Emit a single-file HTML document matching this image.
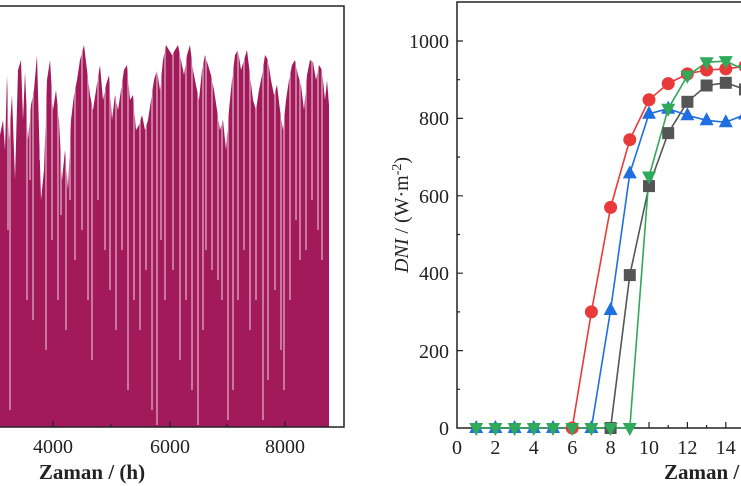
<!DOCTYPE html>
<html><head><meta charset="utf-8"><style>
html,body{margin:0;padding:0;background:#fff;width:741px;height:486px;overflow:hidden}
svg text{font-family:"Liberation Serif",serif;fill:#222}
</style></head><body>
<svg width="741" height="486" viewBox="0 0 741 486" xmlns="http://www.w3.org/2000/svg">
<defs>
<rect id="sq" x="-6" y="-6" width="12" height="12" fill="#555"/>
<circle id="ci" r="6.5" fill="#e83a3a"/>
<path id="up" d="M0 -8L7 5L-7 5Z" fill="#1f6fe0"/>
<path id="dn" d="M0 8L7 -5L-7 -5Z" fill="#2faa5a"/>
</defs>
<!-- bars -->
<polygon fill="#a31a5b" points="0,427 0,135 3,120 5,150 7,75 9,140 12,95 15,180 18,70 21,60 23,120 25,72 28,140 31,105 34,90 37,55 39,130 41,200 44,170 47,80 50,60 53,110 56,90 59,120 62,180 65,150 68,190 71,120 74,95 77,80 80,60 84,45 87,70 90,95 93,110 96,90 100,65 103,100 106,85 109,75 112,120 115,95 118,110 121,90 124,70 127,65 130,100 133,95 136,130 139,125 142,115 145,130 148,120 151,100 154,80 157,70 160,90 163,60 166,45 169,50 172,55 175,50 178,45 181,60 184,75 187,55 190,45 193,70 196,85 199,100 202,70 205,55 208,65 211,75 214,90 217,110 220,130 223,120 226,150 229,110 232,80 235,55 238,50 241,70 244,60 247,50 250,75 253,100 256,110 259,90 262,75 265,55 268,60 271,80 274,95 277,85 280,110 283,130 286,100 289,80 292,65 295,60 298,75 301,85 304,110 307,75 310,60 313,62 316,80 319,65 322,70 325,100 327,80 329,105 329,427"/>
<g stroke="#fff" stroke-width="0.9" opacity="0.9">
<path d="M8 40V230M10 40V410M27 40V300M30 40V180M33 40V320M40 40V160M46 40V350M52 40V240M58 40V300M61 40V215M66 40V330M70 40V200M75 40V260M82 40V230M88 40V300M92 40V360M98 40V200M105 40V250M110 40V290M116 40V330M122 40V250M128 40V390M134 40V300M140 40V330M146 40V270M152 40V410M157 40V425M161 40V240M165 40V300M173 40V270M180 40V360M186 40V300M192 40V390M198 40V425M203 40V330M206 40V250M212 40V270M218 40V280M222 40V300M228 40V420M233 40V390M238 40V300M244 40V250M250 40V330M256 40V300M263 40V420M268 40V380M275 40V290M281 40V350M284 40V390M290 40V300M296 40V220M300 40V260M306 40V250M312 40V200M318 40V230M322 40V260"/>
</g>
<!-- left frame -->
<path d="M-2 6 H344 V427 H-2" fill="none" stroke="#222" stroke-width="1.5"/>
<g stroke="#222" stroke-width="1.2">
<line x1="53" y1="427" x2="53" y2="421"/><line x1="170" y1="427" x2="170" y2="421"/><line x1="285" y1="427" x2="285" y2="421"/>
<line x1="111" y1="427" x2="111" y2="424"/><line x1="227" y1="427" x2="227" y2="424"/>
</g>
<g font-size="20" text-anchor="middle">
<text x="53" y="453">4000</text><text x="170" y="453">6000</text><text x="285" y="453">8000</text>
</g>
<text x="92" y="479" font-size="21" font-weight="bold" text-anchor="middle">Zaman / (h)</text>

<!-- right frame -->
<path d="M745 2 H457 V428 H745" fill="none" stroke="#222" stroke-width="1.5"/>
<g stroke="#222" stroke-width="1.2">
<path d="M457 389.3h3M457 350.6h6M457 311.9h3M457 273.2h6M457 234.5h3M457 195.8h6M457 157.1h3M457 118.4h6M457 79.7h3M457 41h6"/>
<path d="M476.2 428v-3M495.4 428v-6M514.6 428v-3M533.8 428v-6M553 428v-3M572.2 428v-6M591.4 428v-3M610.6 428v-6M629.8 428v-3M649 428v-6M668.2 428v-3M687.4 428v-6M706.6 428v-3M725.8 428v-6"/>
</g>
<g font-size="20" text-anchor="end">
<text x="449" y="435">0</text><text x="449" y="358">200</text><text x="449" y="280">400</text><text x="449" y="203">600</text><text x="449" y="125">800</text><text x="449" y="48">1000</text>
</g>
<g font-size="20" text-anchor="middle">
<text x="457" y="454">0</text><text x="495.4" y="454">2</text><text x="533.8" y="454">4</text><text x="572.2" y="454">6</text><text x="610.6" y="454">8</text><text x="649" y="454">10</text><text x="687.4" y="454">12</text><text x="725.8" y="454">14</text>
</g>
<text transform="translate(408,215) rotate(-90)" font-size="20" text-anchor="middle"><tspan font-style="italic">DNI</tspan> / (W·m<tspan dy="-7" font-size="14">-2</tspan><tspan dy="7">)</tspan></text>
<text x="664" y="479" font-size="21" font-weight="bold">Zaman / (h)</text>

<g fill="none" stroke-width="1.6" stroke-linejoin="round">
<polyline stroke="#555" points="476.2,428 610.6,428 629.8,275.1 649,186.1 668.2,133.1 687.4,101.8 706.6,85.5 725.8,82.8 745,89.4"/>
<polyline stroke="#e83a3a" points="476.2,428 572.2,428 591.4,311.9 610.6,207.4 629.8,139.7 649,99.8 668.2,83.6 687.4,73.9 706.6,70 725.8,68.9 745,66.2"/>
<polyline stroke="#1f6fe0" points="476.2,428 591.4,428 610.6,310 629.8,173.4 649,113.8 668.2,108.7 687.4,115.3 706.6,120.3 725.8,122.3 745,114.5"/>
<polyline stroke="#2faa5a" points="476.2,428 629.8,428 649,176.5 668.2,108.7 687.4,75.8 706.6,62.3 725.8,61.1 745,70"/>
</g>
<use href="#sq" x="610.6" y="428"/><use href="#sq" x="629.8" y="275.1"/><use href="#sq" x="649" y="186.1"/><use href="#sq" x="668.2" y="133.1"/><use href="#sq" x="687.4" y="101.8"/><use href="#sq" x="706.6" y="85.5"/><use href="#sq" x="725.8" y="82.8"/><use href="#sq" x="745" y="89.4"/>
<use href="#ci" x="572.2" y="428"/><use href="#ci" x="591.4" y="311.9"/><use href="#ci" x="610.6" y="207.4"/><use href="#ci" x="629.8" y="139.7"/><use href="#ci" x="649" y="99.8"/><use href="#ci" x="668.2" y="83.6"/><use href="#ci" x="687.4" y="73.9"/><use href="#ci" x="706.6" y="70"/><use href="#ci" x="725.8" y="68.9"/><use href="#ci" x="745" y="66.2"/>
<use href="#up" x="476.2" y="428"/><use href="#up" x="495.4" y="428"/><use href="#up" x="514.6" y="428"/><use href="#up" x="533.8" y="428"/><use href="#up" x="553" y="428"/><use href="#up" x="591.4" y="428"/><use href="#up" x="610.6" y="310"/><use href="#up" x="629.8" y="173.4"/><use href="#up" x="649" y="113.8"/><use href="#up" x="668.2" y="108.7"/><use href="#up" x="687.4" y="115.3"/><use href="#up" x="706.6" y="120.3"/><use href="#up" x="725.8" y="122.3"/><use href="#up" x="745" y="114.5"/>
<use href="#dn" x="476.2" y="428"/><use href="#dn" x="495.4" y="428"/><use href="#dn" x="514.6" y="428"/><use href="#dn" x="533.8" y="428"/><use href="#dn" x="553" y="428"/><use href="#dn" x="572.2" y="428"/><use href="#dn" x="591.4" y="428"/><use href="#dn" x="610.6" y="428"/><use href="#dn" x="629.8" y="428"/><use href="#dn" x="649" y="176.5"/><use href="#dn" x="668.2" y="108.7"/><use href="#dn" x="687.4" y="75.8"/><use href="#dn" x="706.6" y="62.3"/><use href="#dn" x="725.8" y="61.1"/><use href="#dn" x="745" y="70"/>
</svg>
</body></html>
